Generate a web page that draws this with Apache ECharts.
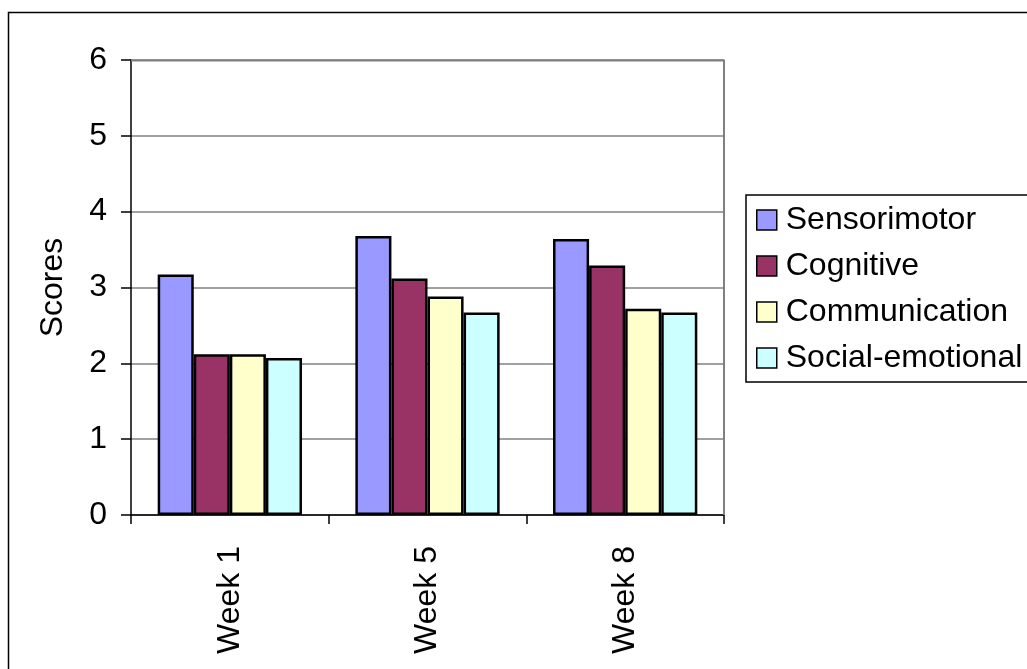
<!DOCTYPE html>
<html>
<head>
<meta charset="utf-8">
<style>
  html, body { margin: 0; padding: 0; background: #fff; }
  #chart { width: 1027px; height: 669px; }
</style>
<script src="https://cdn.jsdelivr.net/npm/echarts@6/dist/echarts.min.js"></script>
</head>
<body>
<div id="chart"></div>
<script>
// Weekly assessment scores by developmental domain
const weeks = ['Week 1', 'Week 5', 'Week 8'];
const domainNames = ['Sensorimotor', 'Cognitive', 'Communication', 'Social-emotional'];
const sensorimotor = [3.17, 3.68, 3.64];
const cognitive = [2.12, 3.12, 3.29];
const communication = [2.12, 2.88, 2.72];
const socialEmotional = [2.07, 2.67, 2.67];
const yTicks = [0, 1, 2, 3, 4, 5, 6];

const domainValues = [sensorimotor, cognitive, communication, socialEmotional];
const domainColors = ['#9999FF', '#993366', '#FFFFCC', '#CCFFFF'];

const FONT = '"Liberation Sans", Arial, sans-serif';
const chart = echarts.init(document.getElementById('chart'), null, { renderer: 'canvas' });

chart.setOption({
  backgroundColor: '#ffffff',
  animation: false,
  textStyle: { fontFamily: FONT, color: '#000' },
  graphic: [
    {
      type: 'rect',
      shape: { x: 8.5, y: 12.5, width: 1040, height: 700 },
      style: { fill: 'none', stroke: '#000', lineWidth: 1.5 },
      silent: true,
      z: -1
    },
    {
      // plot area frame (top and right edges)
      type: 'polyline',
      shape: { points: [[131, 60.5], [724, 60.5], [724, 515]] },
      style: { stroke: '#808080', lineWidth: 2, fill: 'none' },
      silent: true,
      z: 5
    }
  ],
  grid: { left: 131, right: 303, top: 60, bottom: 154, containLabel: false },
  legend: {
    orient: 'vertical',
    left: 746,
    top: 195,
    padding: [9, 20, 8, 10],
    itemGap: 14,
    itemWidth: 20,
    itemHeight: 20,
    borderColor: '#000',
    borderWidth: 1.5,
    icon: 'rect',
    itemStyle: { borderColor: '#000', borderWidth: 1.5 },
    textStyle: { fontFamily: FONT, fontSize: 32, color: '#000', padding: [0, 0, 0, 4] },
    data: domainNames
  },
  xAxis: {
    type: 'category',
    data: weeks,
    axisLine: { show: true, lineStyle: { color: '#000', width: 1.5 } },
    axisTick: { show: true, length: 9, alignWithLabel: false, lineStyle: { color: '#000', width: 1.5 } },
    axisLabel: { rotate: 90, margin: 31, fontSize: 32, fontFamily: FONT, color: '#000' }
  },
  yAxis: {
    type: 'value',
    min: yTicks[0],
    max: yTicks[yTicks.length - 1],
    interval: 1,
    name: 'Scores',
    nameLocation: 'middle',
    nameGap: 62,
    nameTextStyle: { fontSize: 32, fontFamily: FONT, color: '#000' },
    axisLine: { show: true, lineStyle: { color: '#000', width: 1.5 } },
    axisTick: { show: true, length: 10, lineStyle: { color: '#000', width: 1.5 } },
    axisLabel: { margin: 24, fontSize: 32, fontFamily: FONT, color: '#000' },
    splitLine: { show: true, lineStyle: { color: '#808080', width: 1.5 } }
  },
  series: domainNames.map((name, i) => ({
    name: name,
    type: 'bar',
    data: domainValues[i],
    barGap: '0%',
    barCategoryGap: '27%',
    itemStyle: { color: domainColors[i], borderColor: '#000', borderWidth: 2.5 },
    z: 3
  }))
});
</script>
</body>
</html>
